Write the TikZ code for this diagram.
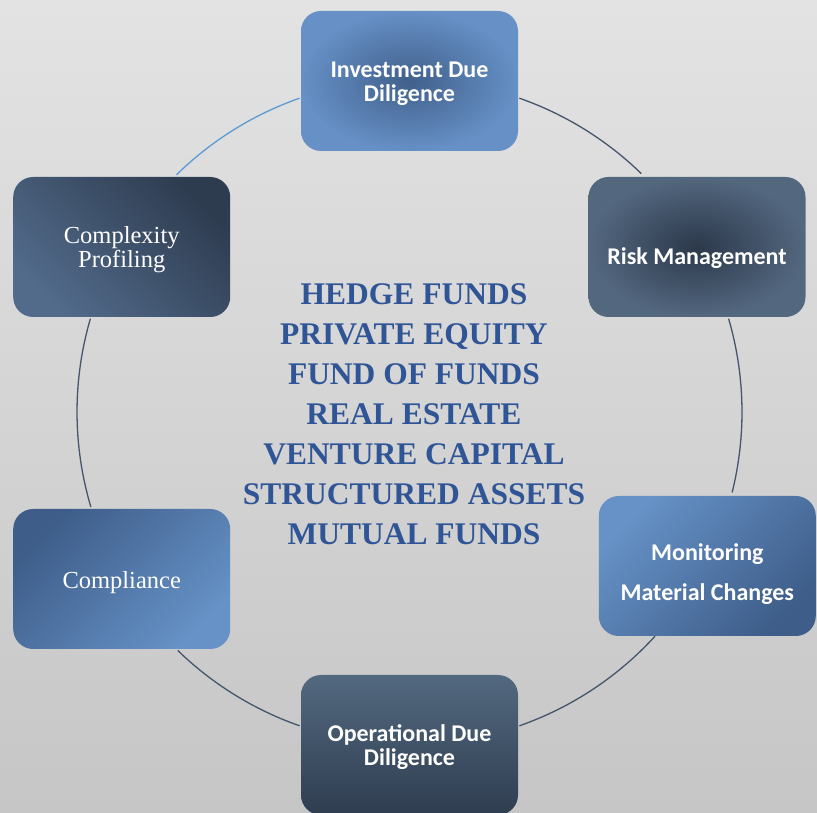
\documentclass[tikz,border=0pt]{standalone}
\usepackage{fontspec}
\setmainfont{Liberation Serif}
\newfontfamily\boxsans{Carlito}
\usetikzlibrary{calc}
\definecolor{bgtop}{HTML}{E3E3E3}
\definecolor{bgbot}{HTML}{C6C6C6}
\definecolor{invin}{HTML}{41608B}
\definecolor{invout}{HTML}{6690C6}
\definecolor{riskin}{HTML}{2C394B}
\definecolor{riskout}{HTML}{53677F}
\definecolor{slatedark}{HTML}{2E3C50}
\definecolor{slatelight}{HTML}{526B8B}
\definecolor{bluedark}{HTML}{3E5D89}
\definecolor{bluelight}{HTML}{6692C7}
\definecolor{opstop}{HTML}{53697F}
\definecolor{opsbot}{HTML}{2F3D50}
\definecolor{ringcol}{HTML}{44556D}
\definecolor{ringblue}{HTML}{5B9BD5}
\definecolor{ctext}{HTML}{2F5597}
\newcommand\ringr{332.5pt}
\tikzset{
  stagebox/.style={rectangle, rounded corners=20pt, minimum width=217pt,
    minimum height=140pt, inner sep=0pt},
  lblsans/.style={text=white, align=center,
    font=\boxsans\bfseries\fontsize{24}{24}\selectfont},
  lblserif/.style={text=white, align=center,
    font=\fontsize{24.5}{24}\selectfont},
  ringline/.style={draw=ringcol, line width=1.3pt},
  ringlineblue/.style={draw=ringblue, line width=1.3pt}
}
\begin{document}
\begin{tikzpicture}[x=1pt,y=1pt]
\useasboundingbox (0,0) rectangle (817,812);
\shade[top color=bgtop, bottom color=bgbot] (0,0) rectangle (817,812);

% ring
\coordinate (cc) at (409.5,400);
\coordinate (r1s) at ($(cc)+(70.7:\ringr)$);
\coordinate (r2s) at ($(cc)+(16.3:\ringr)$);
\coordinate (r3s) at ($(cc)+(-42.4:\ringr)$);
\coordinate (r4s) at ($(cc)+(-109.3:\ringr)$);
\coordinate (r5s) at ($(cc)+(196.6:\ringr)$);
\coordinate (r6s) at ($(cc)+(134.5:\ringr)$);
\draw[ringline] (r1s) arc[start angle=70.7, end angle=45.8, radius=\ringr];
\draw[ringline] (r2s) arc[start angle=16.3, end angle=-14, radius=\ringr];
\draw[ringline] (r3s) arc[start angle=-42.4, end angle=-70.7, radius=\ringr];
\draw[ringline] (r4s) arc[start angle=-109.3, end angle=-134.2, radius=\ringr];
\draw[ringline] (r5s) arc[start angle=196.6, end angle=163.7, radius=\ringr];
\draw[ringlineblue] (r6s) arc[start angle=134.5, end angle=109.3, radius=\ringr];

% boxes
\node[stagebox, inner color=invin, outer color=invout] (inv) at (409.5,731) {};
\node[stagebox, inner color=riskin, outer color=riskout] (risk) at (697,565) {};
\node[stagebox, top color=slatedark, bottom color=slatelight, shading angle=-45] (cplx) at (121.7,565) {};
\node[stagebox, top color=bluedark, bottom color=bluelight, shading angle=45] (cmpl) at (121.7,233) {};
\node[stagebox, top color=bluelight, bottom color=bluedark, shading angle=45] (mon) at (707.3,246) {};
\node[stagebox, top color=opstop, bottom color=opsbot] (ops) at (409.5,67) {};

% labels
\node[lblsans] (invt) at ($(inv)+(0,-3)$) {Investment Due\\Diligence};
\node[lblsans] (riskt) at ($(risk)+(0,-11)$) {Risk Management};
\node[lblserif] (cplxt) at ($(cplx)+(0,-3)$) {Complexity\\Profiling};
\node[lblserif] (cmplt) at ($(cmpl)+(0,-4)$) {Compliance};
\node[lblsans, font=\boxsans\bfseries\fontsize{24}{40}\selectfont] (mont) at ($(mon)+(0,-8.5)$) {Monitoring\\Material Changes};
\node[lblsans] (opst) at ($(ops)+(0,-2.5)$) {Operational Due\\Diligence};

% centre list
\node[text=ctext, align=center, font=\bfseries\fontsize{31.5}{40}\selectfont] (funds) at (414,398)
  {HEDGE FUNDS\\PRIVATE EQUITY\\FUND OF FUNDS\\REAL ESTATE\\VENTURE CAPITAL\\STRUCTURED ASSETS\\MUTUAL FUNDS};
\end{tikzpicture}
\end{document}
